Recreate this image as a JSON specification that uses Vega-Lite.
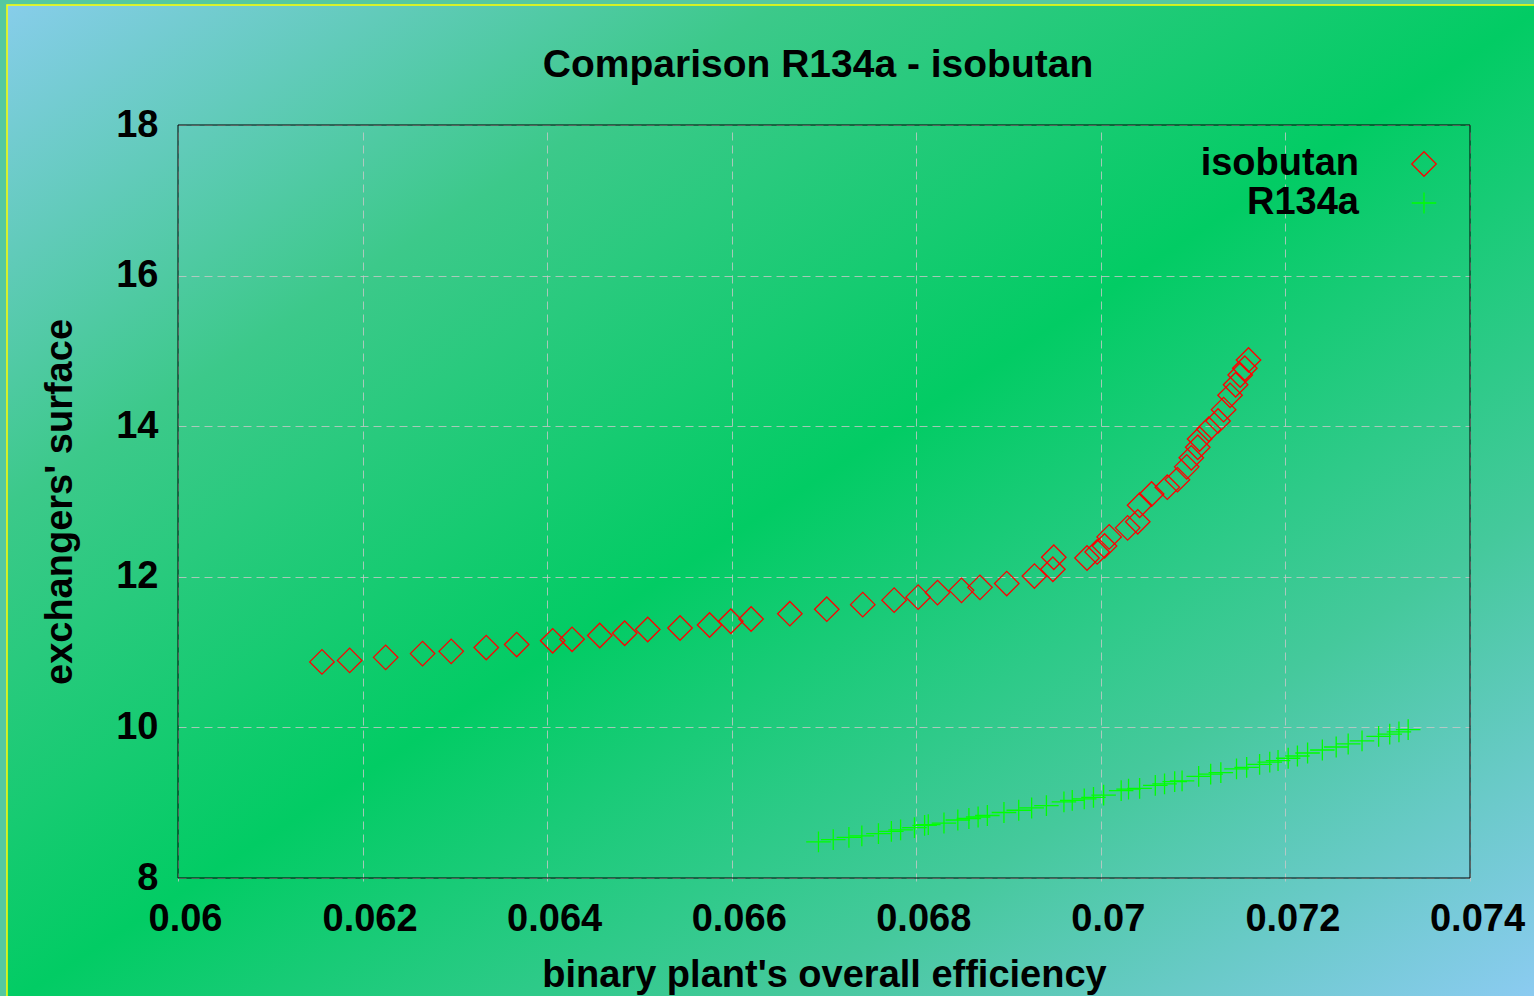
{
  "$schema": "https://vega.github.io/schema/vega-lite/v6.json",
  "width": 1540,
  "height": 1000,
  "autosize": "none",
  "padding": {"left": 7, "top": 5, "right": 0, "bottom": 0},
  "background": "#55c8a0",
  "title": {
    "text": "Comparison R134a - isobutan",
    "fontSize": 39,
    "font": "Liberation Sans",
    "fontWeight": "bold",
    "color": "black",
    "anchor": "middle",
    "frame": "group",
    "offset": -111,
    "dx": 41,
    "baseline": "alphabetic"
  },
  "config": {
    "font": "Liberation Sans",
    "view": {
      "stroke": "#ffff00",
      "strokeWidth": 1.5,
      "fill": {
        "gradient": "linear",
        "x1": 0, "y1": 0, "x2": 1, "y2": 1,
        "stops": [
          {"offset": 0, "color": "#87cdea"},
          {"offset": 0.25, "color": "#3cc98a"},
          {"offset": 0.5, "color": "#02cc64"},
          {"offset": 0.75, "color": "#45c99c"},
          {"offset": 1, "color": "#8ecbf4"}
        ]
      }
    },
    "axis": {
      "domain": false,
      "ticks": false,
      "grid": true,
      "gridColor": "#c8c8c8",
      "gridDash": [8, 5],
      "gridOpacity": 0.8,
      "gridWidth": 1,
      "labelFlush": false,
      "labelOverlap": false,
      "labelFont": "Liberation Sans",
      "labelFontSize": 38,
      "labelFontWeight": "bold",
      "labelColor": "black",
      "titleFont": "Liberation Sans",
      "titleFontSize": 38,
      "titleFontWeight": "bold",
      "titleColor": "black"
    },
    "legend": {
      "orient": "none",
      "legendX": 1398,
      "legendY": 140,
      "padding": 0,
      "symbolSize": 600,
      "symbolStrokeWidth": 1.3,
      "labelFont": "Liberation Sans",
      "labelFontSize": 38,
      "labelFontWeight": "bold",
      "labelColor": "black",
      "labelAlign": "right",
      "labelOffset": -84,
      "rowPadding": 1
    }
  },
  "layer": [
    {
      "data": {"values": [{}]},
      "mark": {"type": "rect", "filled": false, "stroke": "black", "strokeWidth": 1},
      "encoding": {
        "x": {"datum": 0.06, "type": "quantitative"},
        "x2": {"datum": 0.074},
        "y": {"datum": 8, "type": "quantitative"},
        "y2": {"datum": 18}
      }
    },
    {
      "data": {
        "values": [
          {"fluid": "isobutan", "eff": 0.06156, "surface": 10.87},
          {"fluid": "isobutan", "eff": 0.06186, "surface": 10.89},
          {"fluid": "isobutan", "eff": 0.06225, "surface": 10.93},
          {"fluid": "isobutan", "eff": 0.06265, "surface": 10.98},
          {"fluid": "isobutan", "eff": 0.06296, "surface": 11.01},
          {"fluid": "isobutan", "eff": 0.06334, "surface": 11.06},
          {"fluid": "isobutan", "eff": 0.06367, "surface": 11.10},
          {"fluid": "isobutan", "eff": 0.06406, "surface": 11.15},
          {"fluid": "isobutan", "eff": 0.06427, "surface": 11.17},
          {"fluid": "isobutan", "eff": 0.06457, "surface": 11.22},
          {"fluid": "isobutan", "eff": 0.06484, "surface": 11.25},
          {"fluid": "isobutan", "eff": 0.06509, "surface": 11.30},
          {"fluid": "isobutan", "eff": 0.06544, "surface": 11.32},
          {"fluid": "isobutan", "eff": 0.06576, "surface": 11.36},
          {"fluid": "isobutan", "eff": 0.06599, "surface": 11.41},
          {"fluid": "isobutan", "eff": 0.06621, "surface": 11.44},
          {"fluid": "isobutan", "eff": 0.06663, "surface": 11.51},
          {"fluid": "isobutan", "eff": 0.06703, "surface": 11.57},
          {"fluid": "isobutan", "eff": 0.06742, "surface": 11.63},
          {"fluid": "isobutan", "eff": 0.06776, "surface": 11.69},
          {"fluid": "isobutan", "eff": 0.06802, "surface": 11.73},
          {"fluid": "isobutan", "eff": 0.06823, "surface": 11.79},
          {"fluid": "isobutan", "eff": 0.06849, "surface": 11.82},
          {"fluid": "isobutan", "eff": 0.06869, "surface": 11.86},
          {"fluid": "isobutan", "eff": 0.06898, "surface": 11.91},
          {"fluid": "isobutan", "eff": 0.06928, "surface": 12.01},
          {"fluid": "isobutan", "eff": 0.06948, "surface": 12.10},
          {"fluid": "isobutan", "eff": 0.06949, "surface": 12.26},
          {"fluid": "isobutan", "eff": 0.06985, "surface": 12.25},
          {"fluid": "isobutan", "eff": 0.06996, "surface": 12.33},
          {"fluid": "isobutan", "eff": 0.07004, "surface": 12.41},
          {"fluid": "isobutan", "eff": 0.07009, "surface": 12.53},
          {"fluid": "isobutan", "eff": 0.07029, "surface": 12.65},
          {"fluid": "isobutan", "eff": 0.07040, "surface": 12.73},
          {"fluid": "isobutan", "eff": 0.07042, "surface": 12.95},
          {"fluid": "isobutan", "eff": 0.07055, "surface": 13.10},
          {"fluid": "isobutan", "eff": 0.07072, "surface": 13.19},
          {"fluid": "isobutan", "eff": 0.07083, "surface": 13.29},
          {"fluid": "isobutan", "eff": 0.07093, "surface": 13.46},
          {"fluid": "isobutan", "eff": 0.07098, "surface": 13.58},
          {"fluid": "isobutan", "eff": 0.07105, "surface": 13.72},
          {"fluid": "isobutan", "eff": 0.07107, "surface": 13.83},
          {"fluid": "isobutan", "eff": 0.07117, "surface": 13.96},
          {"fluid": "isobutan", "eff": 0.07127, "surface": 14.07},
          {"fluid": "isobutan", "eff": 0.07133, "surface": 14.22},
          {"fluid": "isobutan", "eff": 0.07140, "surface": 14.41},
          {"fluid": "isobutan", "eff": 0.07146, "surface": 14.55},
          {"fluid": "isobutan", "eff": 0.07151, "surface": 14.68},
          {"fluid": "isobutan", "eff": 0.07156, "surface": 14.77},
          {"fluid": "isobutan", "eff": 0.07160, "surface": 14.88},
          {"fluid": "R134a", "eff": 0.06694, "surface": 8.48},
          {"fluid": "R134a", "eff": 0.06710, "surface": 8.51},
          {"fluid": "R134a", "eff": 0.06727, "surface": 8.54},
          {"fluid": "R134a", "eff": 0.06741, "surface": 8.56},
          {"fluid": "R134a", "eff": 0.06759, "surface": 8.59},
          {"fluid": "R134a", "eff": 0.06773, "surface": 8.62},
          {"fluid": "R134a", "eff": 0.06783, "surface": 8.64},
          {"fluid": "R134a", "eff": 0.06798, "surface": 8.67},
          {"fluid": "R134a", "eff": 0.06809, "surface": 8.70},
          {"fluid": "R134a", "eff": 0.06813, "surface": 8.71},
          {"fluid": "R134a", "eff": 0.06830, "surface": 8.73},
          {"fluid": "R134a", "eff": 0.06845, "surface": 8.77},
          {"fluid": "R134a", "eff": 0.06857, "surface": 8.79},
          {"fluid": "R134a", "eff": 0.06867, "surface": 8.81},
          {"fluid": "R134a", "eff": 0.06877, "surface": 8.83},
          {"fluid": "R134a", "eff": 0.06895, "surface": 8.87},
          {"fluid": "R134a", "eff": 0.06911, "surface": 8.90},
          {"fluid": "R134a", "eff": 0.06925, "surface": 8.93},
          {"fluid": "R134a", "eff": 0.06941, "surface": 8.96},
          {"fluid": "R134a", "eff": 0.06960, "surface": 9.01},
          {"fluid": "R134a", "eff": 0.06969, "surface": 9.03},
          {"fluid": "R134a", "eff": 0.06982, "surface": 9.05},
          {"fluid": "R134a", "eff": 0.06992, "surface": 9.07},
          {"fluid": "R134a", "eff": 0.07003, "surface": 9.10},
          {"fluid": "R134a", "eff": 0.07022, "surface": 9.16},
          {"fluid": "R134a", "eff": 0.07030, "surface": 9.18},
          {"fluid": "R134a", "eff": 0.07042, "surface": 9.19},
          {"fluid": "R134a", "eff": 0.07059, "surface": 9.23},
          {"fluid": "R134a", "eff": 0.07069, "surface": 9.25},
          {"fluid": "R134a", "eff": 0.07080, "surface": 9.28},
          {"fluid": "R134a", "eff": 0.07088, "surface": 9.29},
          {"fluid": "R134a", "eff": 0.07106, "surface": 9.35},
          {"fluid": "R134a", "eff": 0.07119, "surface": 9.38},
          {"fluid": "R134a", "eff": 0.07130, "surface": 9.40},
          {"fluid": "R134a", "eff": 0.07147, "surface": 9.45},
          {"fluid": "R134a", "eff": 0.07158, "surface": 9.47},
          {"fluid": "R134a", "eff": 0.07172, "surface": 9.51},
          {"fluid": "R134a", "eff": 0.07183, "surface": 9.54},
          {"fluid": "R134a", "eff": 0.07192, "surface": 9.56},
          {"fluid": "R134a", "eff": 0.07203, "surface": 9.59},
          {"fluid": "R134a", "eff": 0.07213, "surface": 9.62},
          {"fluid": "R134a", "eff": 0.07224, "surface": 9.66},
          {"fluid": "R134a", "eff": 0.07240, "surface": 9.70},
          {"fluid": "R134a", "eff": 0.07255, "surface": 9.74},
          {"fluid": "R134a", "eff": 0.07268, "surface": 9.78},
          {"fluid": "R134a", "eff": 0.07283, "surface": 9.82},
          {"fluid": "R134a", "eff": 0.07301, "surface": 9.88},
          {"fluid": "R134a", "eff": 0.07313, "surface": 9.91},
          {"fluid": "R134a", "eff": 0.07323, "surface": 9.94},
          {"fluid": "R134a", "eff": 0.07333, "surface": 9.97}
        ]
      },
      "mark": {"type": "point", "filled": false, "size": 600, "strokeWidth": 1.3, "opacity": 1},
      "encoding": {
        "x": {
          "field": "eff",
          "type": "quantitative",
          "scale": {"domain": [0.06, 0.074], "range": [171, 1463], "nice": false, "zero": false},
          "axis": {
            "title": "binary plant's overall efficiency",
            "values": [0.06, 0.062, 0.064, 0.066, 0.068, 0.07, 0.072, 0.074],
            "format": "~g",
            "offset": -127,
            "labelOffset": 7,
            "labelPadding": 22,
            "titlePadding": 18
          }
        },
        "y": {
          "field": "surface",
          "type": "quantitative",
          "scale": {"domain": [8, 18], "range": [873, 120], "nice": false, "zero": false},
          "axis": {
            "title": "exchangers' surface",
            "values": [8, 10, 12, 14, 16, 18],
            "format": "d",
            "offset": -171,
            "labelPadding": 20,
            "titlePadding": 36
          }
        },
        "color": {
          "field": "fluid",
          "type": "nominal",
          "scale": {"domain": ["isobutan", "R134a"], "range": ["#ff0000", "#00ff00"]},
          "legend": {"title": null}
        },
        "shape": {
          "field": "fluid",
          "type": "nominal",
          "scale": {"domain": ["isobutan", "R134a"], "range": ["diamond", "M-1,0H1M0,-0.85V0.85"]},
          "legend": {"title": null}
        }
      }
    }
  ]
}
